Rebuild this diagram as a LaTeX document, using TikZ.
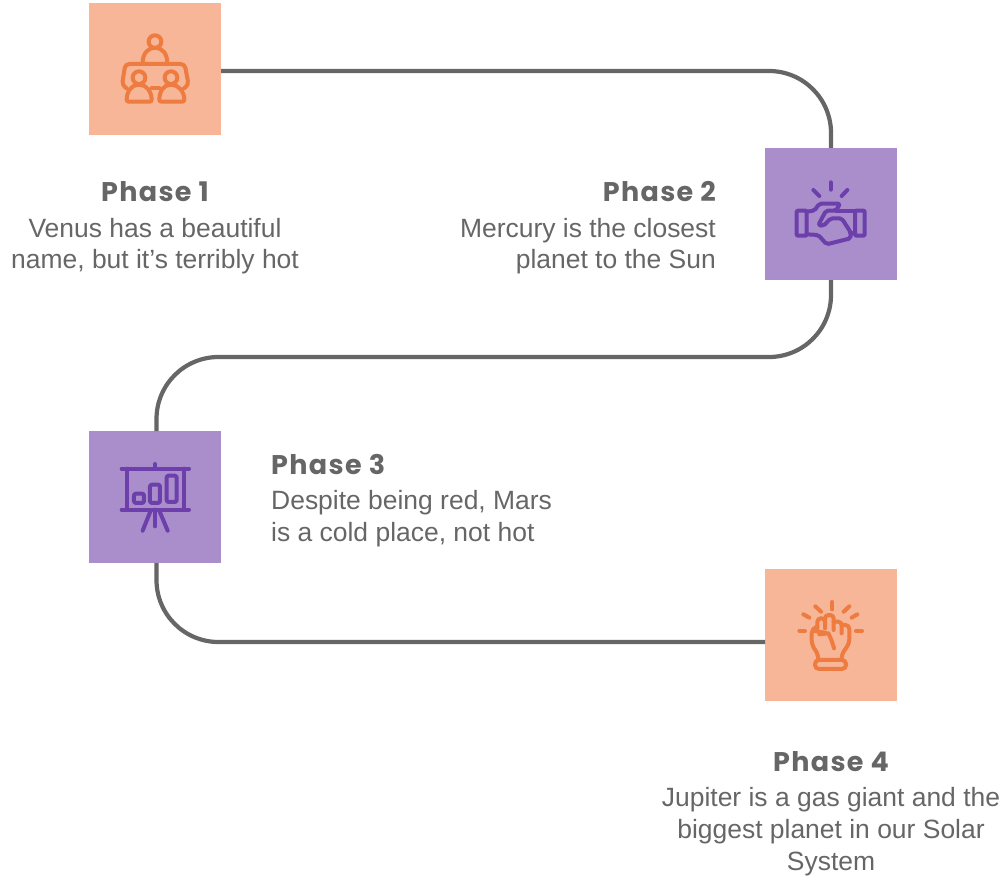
\documentclass[tikz,border=0pt]{standalone}
\usepackage{fontspec}
\setmainfont{Liberation Sans}
\newfontfamily\bodyfont{Liberation Sans}
\newfontfamily\titlefont[LetterSpace=5]{Poppins}
\definecolor{boxorange}{HTML}{F6B697}
\definecolor{boxpurple}{HTML}{A98ECB}
\definecolor{lineorange}{HTML}{EE7B3F}
\definecolor{linepurple}{HTML}{6C3FAB}
\definecolor{greytext}{HTML}{666666}
\newcommand\titlesize{\fontsize{27}{32}\selectfont\titlefont\bfseries}
\newcommand\bodysize{\fontsize{26.45}{32}\selectfont\bodyfont}

\begin{document}
\begin{tikzpicture}[x = 1pt, y = -1pt,
	iconbox/.style = {minimum size = 132pt, inner sep = 0},
	link/.style = {draw = greytext, line width = 4.2pt, rounded corners = 62pt},
	glyph/.style = {line width = 4pt, line cap = round, line join = round, scale = 0.3333},
	heading/.style = {text = greytext, font = \titlesize, inner sep = 0, anchor = base},
	copy/.style = {text = greytext, font = \bodysize, inner sep = 0, anchor = base}]
	\useasboundingbox (0, 0) rectangle (1003, 877);

	\coordinate (cornerA) at (831, 71);
	\coordinate (cornerB) at (831, 357);
	\coordinate (cornerC) at (156.5, 357);
	\coordinate (cornerD) at (156.5, 642);
	\coordinate (startA) at (221, 71);
	\coordinate (endD) at (765, 642);
	\coordinate (topC) at (156.5, 431);
	\coordinate (bottomC) at (156.5, 563);

	\node[iconbox, fill = boxorange] (iconA) at (155, 69){};
	\node[iconbox, fill = boxpurple] (iconB) at (831, 214){};
	\node[iconbox, fill = boxpurple] (iconC) at (155, 497){};
	\node[iconbox, fill = boxorange] (iconD) at (831, 635){};

	\draw[link] (startA) -- (cornerA) -- (iconB.north);
	\draw[link] (iconB.south) -- (cornerB) -- (cornerC) -- (topC);
	\draw[link] (bottomC) -- (cornerD) -- (endD);

	\begin{scope}[shift = {(80, 0)}, draw = lineorange, glyph]
		\draw (225, 125) circle (19);
		\draw (188, 188) .. controls (188, 160) and (205, 143) .. (225, 143) .. controls (245, 143) and (262, 160) .. (262, 188);
		\draw[rounded corners = 4pt] (140, 265) -- (126, 255) -- (136, 192) -- (314, 192) -- (326, 255) -- (312, 265);
		\draw (177, 233) circle (19);
		\draw (273, 233) circle (19);
		\draw[rounded corners = 2pt] (140, 305) .. controls (140, 272) and (158, 255) .. (177, 255) .. controls (196, 255) and (215, 272) .. (215, 305) -- cycle;
		\draw[rounded corners = 2pt] (238, 305) .. controls (238, 272) and (254, 255) .. (273, 255) .. controls (292, 255) and (313, 272) .. (313, 305) -- cycle;
		\draw (215, 265) -- (238, 265);
	\end{scope}

	\begin{scope}[shift = {(760, 145)}, draw = linepurple, glyph]
		\draw (212, 112) -- (212, 134);
		\draw (160, 135) -- (178, 153);
		\draw (262, 135) -- (245, 153);
		\draw[rounded corners = 1pt] (110, 197) rectangle (140, 272);
		\draw[rounded corners = 1pt] (285, 197) rectangle (314, 272);
		\draw[rounded corners = 2pt] (140, 200) -- (163, 197) -- (178, 176) -- (240, 176) -- (228, 197) -- (198, 197) -- (175, 240) -- (190, 243) -- (212, 220) -- (245, 220) -- (272, 262) -- (272, 280) -- (200, 298) -- (175, 270) -- (140, 268);
		\draw (228, 197) -- (285, 197);
		\draw (272, 265) -- (285, 265);
	\end{scope}

	\begin{scope}[shift = {(85, 428)}, draw = linepurple, glyph]
		\draw (110, 122) -- (312, 122);
		\draw (110, 245) -- (312, 245);
		\draw (125, 122) -- (125, 245);
		\draw (297, 122) -- (297, 245);
		\draw (210, 108) -- (210, 122);
		\draw[rounded corners = 2pt] (147, 197) rectangle (177, 225);
		\draw[rounded corners = 2pt] (195, 170) rectangle (225, 225);
		\draw[rounded corners = 2pt] (245, 143) rectangle (275, 222);
		\draw (197, 248) -- (173, 308);
		\draw (223, 248) -- (248, 308);
		\draw (210, 245) -- (210, 295);
	\end{scope}

	\begin{scope}[shift = {(760, 565)}, draw = lineorange, glyph]
		\draw (217, 111) -- (217, 133);
		\draw (166, 124) -- (183, 140);
		\draw (268, 124) -- (251, 140);
		\draw (130, 148) -- (148, 158);
		\draw (292, 148) -- (275, 158);
		\draw (118, 198) -- (135, 198);
		\draw (288, 198) -- (306, 198);
		\draw[rounded corners = 3.5pt] (172, 190) -- (172, 160) -- (195, 160) -- (195, 190);
		\draw[rounded corners = 3.5pt] (195, 165) -- (195, 150) -- (221, 150) -- (221, 195);
		\draw[rounded corners = 3.5pt] (221, 170) -- (245, 170) -- (245, 205);
		\draw[rounded corners = 4pt] (245, 180) -- (268, 180) -- (268, 235) -- (245, 268) -- (245, 285);
		\draw[rounded corners = 5pt] (172, 185) -- (155, 190) -- (155, 240) -- (175, 268) -- (175, 285);
		\draw[rounded corners = 3pt] (160, 197) -- (205, 205) -- (178, 208);
		\draw[rounded corners = 6pt] (205, 205) -- (215, 225) -- (222, 250);
		\draw[rounded corners = 4pt] (165, 285) rectangle (258, 312);
	\end{scope}

	\node[heading] (titleA) at (155, 202){Phase 1};
	\node[copy] (copyA1) at (155, 237){Venus has a beautiful};
	\node[copy] (copyA2) at (155, 269){name, but it’s terribly hot};

	\node[heading, anchor = base east] (titleB) at (716, 202){Phase 2};
	\node[copy, anchor = base east] (copyB1) at (716, 237){Mercury is the closest};
	\node[copy, anchor = base east] (copyB2) at (716, 269){planet to the Sun};

	\node[heading, anchor = base west] (titleC) at (271, 474){Phase 3};
	\node[copy, anchor = base west] (copyC1) at (271, 509){Despite being red, Mars};
	\node[copy, anchor = base west] (copyC2) at (271, 541){is a cold place, not hot};

	\node[heading] (titleD) at (831, 771){Phase 4};
	\node[copy] (copyD1) at (831, 806){Jupiter is a gas giant and the};
	\node[copy] (copyD2) at (831, 838){biggest planet in our Solar};
	\node[copy] (copyD3) at (831, 870){System};
\end{tikzpicture}
\end{document}
